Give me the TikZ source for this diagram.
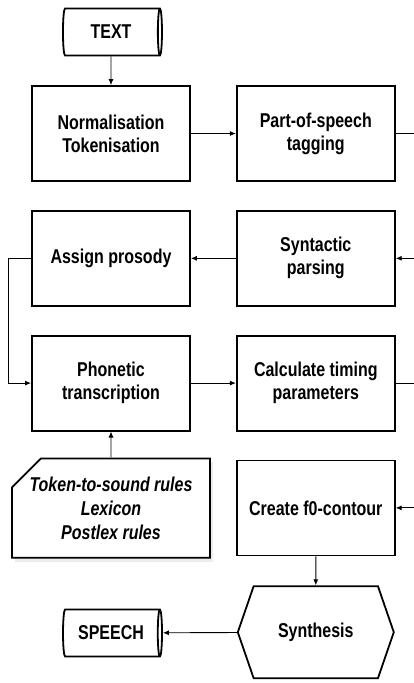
\documentclass[tikz,border=0pt]{standalone}
\usepackage{fontspec}
\setmainfont{Liberation Sans}[FakeStretch=0.8]
\usepackage{tikz}
\usetikzlibrary{
    shapes.geometric,
    shapes.misc,
    shapes.symbols,
    arrows.meta,
    positioning,
    shadows
}
\tikzstyle{box} = [
    rectangle, draw,
    line width=1.8pt,
    minimum width=158pt,
    minimum height=95pt,
    text centered,
    align=center,
    font=\fontsize{20}{23}\selectfont\bfseries
]
\tikzstyle{store} = [
    cylinder, draw,
    line width=1.8pt,
    aspect=0.3,
    minimum width=47pt,
    minimum height=99pt,
    inner sep=0pt,
    font=\fontsize{20}{23}\selectfont\bfseries
]
\tikzstyle{rules} = [
    chamfered rectangle,
    chamfered rectangle corners=north west,
    chamfered rectangle xsep=14pt,
    chamfered rectangle ysep=15pt,
    draw, fill=white,
    line width=1.8pt,
    minimum width=198pt,
    minimum height=98pt,
    align=center,
    drop shadow={fill=black!15, shadow xshift=3pt, shadow yshift=-4pt},
    font=\fontsize{20}{24}\selectfont\bfseries\itshape
]
\tikzstyle{hexa} = [
    signal, draw,
    signal to=west and east,
    signal pointer angle=142,
    line width=1.8pt,
    minimum width=156pt,
    minimum height=92pt,
    inner sep=0pt,
    font=\fontsize{20}{23}\selectfont\bfseries
]
\tikzstyle{arrow} = [
    line width=0.9pt,
    ->,
    >={Latex[length=6pt,width=5pt]}
]
\tikzstyle{line} = [
    line width=0.9pt
]

\begin{document}
\begin{tikzpicture}[x=1pt, y=1pt, node distance=28pt and 45pt]
\useasboundingbox (0,0) rectangle (414,-683);
\coordinate (edge) at (414,0);

\node (text) [store] at (111,-32) {TEXT};
\node (norm) [box] at (111,-133.5) {Normalisation\\Tokenisation};
\node (pos) [box, right=of norm] {Part-of-speech\\tagging};
\node (prosody) [box, below=of norm] {Assign prosody};
\node (parse) [box, below=of pos] {Syntactic\\parsing};
\node (phon) [box, below=of prosody] {Phonetic\\transcription};
\node (timing) [box, below=of parse] {Calculate timing\\parameters};
\node (lex) [rules, below=26pt of phon] {Token-to-sound rules\\Lexicon\\Postlex rules};
\node (f0) [box, below=of timing] {Create f0-contour};
\node (synth) [hexa, below=29pt of f0] {Synthesis};
\node (speech) [store] at (111,-633) {SPEECH};

\draw [arrow] (text) -- (norm);
\draw [arrow] (norm) -- (pos);
\draw [line] (pos.east) -- (pos.east -| edge);
\draw [arrow] (parse.east -| edge) -- (parse);
\draw [arrow] (parse) -- (prosody);

% Prosodie zurueck zur Transkription
\draw [arrow] (prosody.west) -- ++(-23,0) |- (phon.west);

\draw [arrow] (phon) -- (timing);
\draw [line] (timing.east) -- (timing.east -| edge);
\draw [arrow] (lex) -- (phon);
\draw [arrow] (f0.east -| edge) -- (f0);
\draw [arrow] (f0) -- (synth);
\draw [arrow] (synth) -- (speech);

\end{tikzpicture}
\end{document}
